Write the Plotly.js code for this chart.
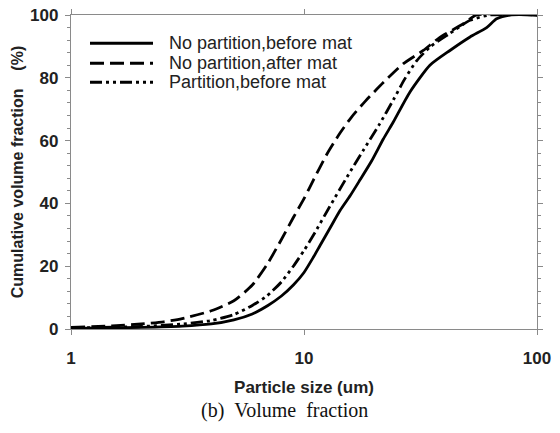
<!DOCTYPE html>
<html>
<head>
<meta charset="utf-8">
<script src="https://cdn.plot.ly/plotly-3.0.1.min.js"></script>
<style>html,body{margin:0;padding:0;background:#fff;}#chart{width:560px;height:433px;}</style>
</head>
<body>
<div id="chart"></div>
<script>
// Series names
const seriesNames = ["No partition,before mat", "No partition,after mat", "Partition,before mat"];

// Solid: No partition, before mat
const sizeSolid = [1, 2, 3, 4, 5, 6, 7, 8, 9, 10, 11, 11.7, 12.9, 14.3, 15.8, 17.4, 19.5, 21.9, 24.2, 28.5, 34.7, 42.3, 51.6, 60.8, 67.1, 76.6, 100];
const fracSolid = [0.2, 0.5, 0.9, 1.6, 2.9, 4.8, 7.5, 10.5, 14, 18, 23, 26.5, 32, 37.8, 42.5, 47.5, 53.5, 60.5, 66, 75.5, 84, 88.7, 93, 96, 98.8, 100, 100];

// Dashed: No partition, after mat
const sizeDash = [1, 1.5, 2, 2.5, 3, 4, 5, 6, 7, 8, 9, 10, 11, 12.5, 14.3, 16, 18.3, 21.9, 26.7, 32.5, 38.3, 48.3, 55, 100];
const fracDash = [0.5, 1, 1.6, 2.3, 3.3, 5.8, 9, 14, 21, 28.5, 35.5, 41.5, 47.6, 55.5, 62.5, 67.5, 72.5, 78.5, 84.5, 88.7, 92.9, 97.2, 100, 100];

// Dash-dot-dot: Partition, before mat
const sizeDot = [1, 2, 3, 4, 5, 6, 6.92, 8, 9, 10, 11, 12.9, 15.3, 18, 21, 24.2, 27, 30.5, 35, 42, 51.6, 62.8, 100];
const fracDot = [0.3, 0.8, 1.6, 2.7, 4.6, 7.5, 10.5, 15, 20, 25, 30, 39, 48.4, 57, 65, 73, 79.5, 85.5, 90, 94, 98.3, 100, 100];

const xTicks = [1, 10, 100];
const yTicks = [0, 20, 40, 60, 80, 100];

const dashStyles = ["solid", "14px,6px", "12px,4px,3px,4px,3px,4px"];
const xs = [sizeSolid, sizeDash, sizeDot];
const ys = [fracSolid, fracDash, fracDot];

const traces = xs.map((x, i) => ({
  x: x, y: ys[i], type: "scatter", mode: "lines", name: seriesNames[i],
  line: {color: "#000", width: 2.8, dash: dashStyles[i], shape: "spline", smoothing: 0.6},
  showlegend: false
}));

// manual legend (paper coords)
const L = 71, R = 537, T = 14.7, B = 329;
const px = v => (v - L) / (R - L);
const py = v => (B - v) / (B - T);
const legendY = [43, 63, 82];
const shapes = legendY.map((yy, i) => ({
  type: "line", xref: "paper", yref: "paper",
  x0: px(90), x1: px(153), y0: py(yy), y1: py(yy),
  line: {color: "#000", width: 2.8, dash: dashStyles[i]}
}));
const annotations = legendY.map((yy, i) => ({
  xref: "paper", yref: "paper", x: px(167), y: py(yy), xanchor: "left", yanchor: "middle",
  text: seriesNames[i], showarrow: false,
  font: {family: "Liberation Sans, Arial, sans-serif", size: 18, color: "#222"}
}));
annotations.push({
  xref: "paper", yref: "paper", x: px(284), y: py(411), xanchor: "center", yanchor: "middle",
  text: "(b)\u00a0\u00a0Volume\u00a0\u00a0fraction", showarrow: false,
  font: {family: "Liberation Serif, Times New Roman, serif", size: 20, color: "#111"}
});

const tickFont = {family: "Liberation Sans, Arial, sans-serif", size: 17, color: "#222", weight: "bold"};
const axisCommon = {
  showgrid: false, zeroline: false, showline: true, linecolor: "#8a8a8a", linewidth: 1.2,
  mirror: "ticks", ticks: "outside", ticklen: 5, tickcolor: "#8a8a8a", tickwidth: 1,
  tickfont: tickFont
};

const layout = {
  width: 560, height: 433,
  margin: {l: L, r: 560 - R, t: T, b: 433 - B},
  paper_bgcolor: "#fff", plot_bgcolor: "#fff",
  xaxis: Object.assign({}, axisCommon, {
    type: "log", range: [0, 2], tickvals: xTicks, ticktext: xTicks.map(String),
    ticklabelstandoff: 8,
    title: {text: "<b>Particle size (um)</b>", standoff: 14,
      font: {family: "Liberation Sans, Arial, sans-serif", size: 17, color: "#222"}}
  }),
  yaxis: Object.assign({}, axisCommon, {
    range: [0, 100], tickvals: yTicks, ticktext: yTicks.map(String),
    ticklabelstandoff: 3,
    minor: {dtick: 4, ticks: "outside", ticklen: 3, tickcolor: "#8a8a8a"},
    title: {text: "<b>Cumulative volume fraction\u00a0\u00a0\u00a0\u00a0(%)</b>", standoff: 2,
      font: {family: "Liberation Sans, Arial, sans-serif", size: 16, color: "#222"}}
  }),
  shapes: shapes, annotations: annotations, showlegend: false
};

Plotly.newPlot("chart", traces, layout, {displayModeBar: false, staticPlot: true});
</script>
</body>
</html>
